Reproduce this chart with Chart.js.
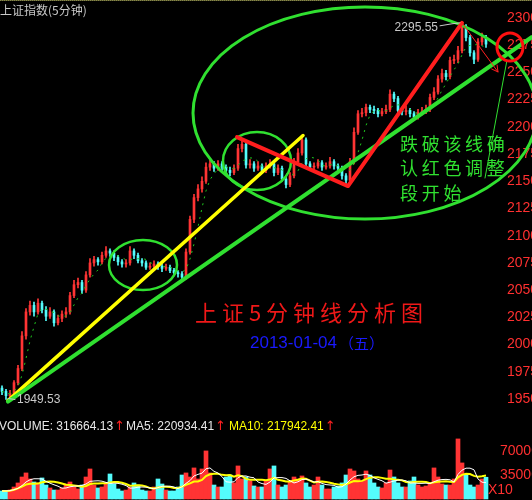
<!DOCTYPE html>
<html>
<head>
<meta charset="utf-8">
<script src="https://cdn.jsdelivr.net/npm/chart.js@4.4.0/dist/chart.umd.min.js"></script>
<style>
  html, body { margin: 0; padding: 0; background: #000; }
  #wrap { position: relative; width: 532px; height: 500px; overflow: hidden; background: #000; }
  #price { position: absolute; left: 0; top: 0; }
  #vol { position: absolute; left: 0; top: 410px; }
</style>
</head>
<body>
<div id="wrap">
  <canvas id="price" width="532" height="410"></canvas>
  <canvas id="vol" width="532" height="90"></canvas>
</div>
<script>
// 5-minute bars, index = bar number (125 slots, last few empty)
const slots = Array.from({length: 125}, (_, i) => i)

const opens = [1960,1957,1953,1955,1965,1978,2008,2030,2036,2030,
  2038,2032,2026,2030,2020,2024,2028,2030,2045,2055,
  2057,2050,2064,2075,2078,2076,2082,2086,2084,2080,
  2076,2074,2075,2086,2082,2077,2075,2071,2072,2074,
  2072,2070,2071,2068,2066,2065,2062,2085,2115,2135,
  2143,2150,2163,2166,2162,2166,2163,2160,2158,2162,
  2180,2184,2165,2166,2162,2164,2160,2164,2166,2158,
  2162,2152,2147,2155,2168,2176,2188,2166,2163,2164,
  2167,2163,2164,2168,2164,2162,2155,2151,2168,2195,
  2212,2213,2218,2216,2215,2212,2214,2216,2230,2226,
  2215,2214,2215,2212,2209,2213,2214,2216,2227,2232,
  2244,2249,2246,2261,2262,2270,2292,2282,2268,2262,
  2278,2282]
const closes = [1957,1953,1955,1965,1978,2008,2030,2036,2030,2038,
  2032,2026,2030,2020,2024,2028,2030,2045,2055,2057,
  2050,2064,2075,2078,2076,2082,2086,2084,2080,2076,
  2074,2075,2086,2082,2077,2075,2071,2072,2074,2072,
  2070,2071,2068,2066,2065,2062,2085,2115,2135,2143,
  2150,2163,2166,2162,2166,2163,2160,2158,2162,2180,
  2184,2165,2166,2162,2164,2160,2164,2166,2158,2162,
  2152,2147,2155,2168,2176,2188,2166,2163,2164,2167,
  2163,2164,2168,2164,2162,2155,2151,2168,2195,2212,
  2213,2218,2216,2215,2212,2214,2216,2230,2226,2215,
  2214,2215,2212,2209,2213,2214,2216,2227,2232,2244,
  2249,2246,2261,2262,2270,2292,2282,2268,2262,2278,
  2282,2276]
const highs = [1962,1959,1958,1967,1981,2012,2033,2040,2039,2042,
  2040,2035,2034,2032,2027,2031,2034,2048,2059,2061,
  2059,2067,2079,2081,2080,2085,2090,2088,2086,2082,
  2078,2078,2090,2088,2084,2079,2077,2075,2077,2076,
  2074,2074,2073,2070,2068,2067,2088,2118,2138,2147,
  2154,2167,2170,2168,2169,2168,2165,2163,2165,2184,
  2188,2186,2170,2168,2168,2166,2167,2170,2168,2165,
  2164,2154,2158,2171,2180,2192,2190,2168,2167,2170,
  2169,2167,2172,2170,2166,2164,2157,2171,2199,2215,
  2217,2221,2220,2219,2217,2217,2220,2234,2232,2228,
  2218,2219,2217,2214,2216,2218,2220,2230,2236,2247,
  2253,2252,2264,2266,2274,2295.55,2294,2284,2270,2281,
  2286,2284]
const lows = [1954,1949.53,1951,1953,1963,1976,2005,2027,2026,2028,
  2029,2022,2024,2017,2018,2021,2025,2028,2043,2052,
  2047,2048,2062,2072,2073,2074,2080,2081,2077,2073,
  2071,2071,2073,2079,2075,2072,2069,2069,2070,2069,
  2067,2068,2066,2063,2062,2060,2060,2083,2112,2132,
  2140,2148,2160,2159,2160,2160,2157,2155,2156,2160,
  2177,2162,2162,2159,2160,2157,2158,2162,2155,2156,
  2150,2144,2145,2153,2166,2174,2163,2160,2160,2162,
  2160,2161,2162,2161,2159,2152,2148,2149,2166,2193,
  2209,2210,2213,2212,2209,2210,2212,2214,2223,2212,
  2211,2211,2209,2206,2207,2211,2212,2214,2225,2230,
  2241,2243,2244,2258,2259,2268,2279,2265,2258,2260,
  2275,2273]
// volume in units of x10
const volumes = [11700,11700,13100,17500,23400,32100,38000,29200,24800,23400,
  30700,20400,16100,13100,13100,16100,21900,24800,17500,14600,
  20400,32100,43800,20400,16100,17500,23400,36500,21900,14600,
  11700,13100,17500,23400,20400,13100,11700,11700,17500,29200,
  21900,13100,11700,11700,17500,35000,38000,32100,45300,29200,
  43800,70100,38000,20400,17500,17500,32100,35000,23400,48200,
  29200,32100,26300,19000,17500,17500,26300,43800,48200,20400,
  17500,20400,26300,32100,29200,33600,23400,17500,20400,32100,
  20400,14600,14600,17500,19000,23400,35000,43800,40900,29200,
  26300,40900,35000,23400,17500,16100,23400,42300,32100,23400,
  17500,17500,26300,32100,20400,17500,19000,23400,45300,32100,
  21900,20400,20400,29200,87600,52600,35000,20400,17500,20400,
  29200,31666]

const priceTicks = {min: 1939.9, max: 2316.5, step: 25}
const volRange = {min: 0, max: 88958}
const volTickValues = [35000, 70000]

// hand drawn marks, in [bar index, price]
const yellowLine = [[1.5, 1948.5], [75.25, 2192]]
const greenLine = [[1.5, 1947.5], [132.5, 2282.5]]
const redPath = [[58.75, 2190.6], [86.5, 2145.6], [115, 2295.55]]
const redArrow = [[115.3, 2294], [124, 2250.4]]
const greenPointer = [[120.75, 2153], [126.25, 2261.4]]
// [center index, center price, radius in bars, radius in price]
const greenEllipses = [[90.75, 2212.7, 43, 97.4], [35.25, 2073.1, 8.5, 23], [63.75, 2168.6, 8.5, 26.6]]
const redCircle = [127, 2273.3, 3, 12.9]

const volumeLabels = ['VOLUME: 316664.13', 'MA5: 220934.41', 'MA10: 217942.41']

const UP = '#ff3434'
const DOWN = '#54fcfc'
const GREEN = '#30e030'

const candleColors = closes.map((c, i) => c >= opens[i] ? UP : DOWN)

function movingAvg(arr, n) {
    return arr.map((_, i) => {
        const from = Math.max(0, i - n + 1)
        let s = 0
        for (let k = from; k <= i; k++) s += arr[k]
        return s / (i - from + 1)
    })
}

Chart.defaults.font.family = 'Liberation Sans'
Chart.defaults.animation = false

function fixAxis(width) {
    return (scale) => {
        scale.width = width
        scale.paddingTop = 0
        scale.paddingBottom = 0
    }
}

function line(ctx, pts, color, width) {
    ctx.strokeStyle = color
    ctx.lineWidth = width
    ctx.beginPath()
    pts.forEach((p, i) => i ? ctx.lineTo(p[0], p[1]) : ctx.moveTo(p[0], p[1]))
    ctx.stroke()
}

const priceOverlay = {
    id: 'priceOverlay',
    afterDraw(chart) {
        const {ctx, scales: {x, y}} = chart
        const P = (p) => [x.getPixelForValue(p[0]), y.getPixelForValue(p[1])]
        const bw = x.getPixelForValue(1) - x.getPixelForValue(0)
        const ph = Math.abs(y.getPixelForValue(0) - y.getPixelForValue(1))
        ctx.save()
        ctx.lineCap = 'round'
        ctx.lineJoin = 'round'

        // dotted top border
        ctx.setLineDash([1, 1])
        line(ctx, [[0, 0.5], [532, 0.5]], '#8a8a4a', 1)
        ctx.setLineDash([])

        // ellipses
        greenEllipses.forEach((e, i) => {
            const c = P([e[0], e[1]])
            ctx.strokeStyle = GREEN
            ctx.lineWidth = i === 0 ? 3 : 2.5
            ctx.beginPath()
            ctx.ellipse(c[0], c[1], e[2] * bw, e[3] * ph, 0, 0, Math.PI * 2)
            ctx.stroke()
        })

        line(ctx, yellowLine.map(P), '#ffff00', 3.5)
        line(ctx, greenLine.map(P), GREEN, 4)
        line(ctx, redPath.map(P), '#ff1e1e', 4)

        // thin arrow from the top
        const a = redArrow.map(P)
        line(ctx, a, '#ff2020', 1)
        const ang = Math.atan2(a[1][1] - a[0][1], a[1][0] - a[0][0])
        line(ctx, [[a[1][0] - 7 * Math.cos(ang - 0.5), a[1][1] - 7 * Math.sin(ang - 0.5)], a[1],
            [a[1][0] - 7 * Math.cos(ang + 0.5), a[1][1] - 7 * Math.sin(ang + 0.5)]], '#ff2020', 1)

        line(ctx, greenPointer.map(P), GREEN, 1)

        const rc = P([redCircle[0], redCircle[1]])
        ctx.strokeStyle = '#ff1010'
        ctx.lineWidth = 3
        ctx.beginPath()
        ctx.ellipse(rc[0], rc[1], redCircle[2] * bw + 1, redCircle[3] * ph, 0, 0, Math.PI * 2)
        ctx.stroke()

        // texts
        ctx.textBaseline = 'middle'
        ctx.fillStyle = '#c8c8c8'
        ctx.font = '12px "Noto Sans CJK SC"'
        ctx.textAlign = 'left'
        ctx.fillText('上证指数(5分钟)', 0, 10)

        const hiIdx = highs.indexOf(Math.max(...highs))
        const hp = P([hiIdx, highs[hiIdx]])
        ctx.font = '12px "Liberation Sans"'
        ctx.textAlign = 'right'
        ctx.fillText(highs[hiIdx].toFixed(2), hp[0] - 24, hp[1] + 5)
        line(ctx, [[hp[0] - 22, hp[1] + 3], [hp[0] - 10, hp[1] + 1], [hp[0] - 2, hp[1]]], '#c8c8c8', 1)

        const loIdx = lows.indexOf(Math.min(...lows))
        const lp = P([loIdx, lows[loIdx]])
        ctx.textAlign = 'left'
        ctx.fillText(lows[loIdx].toFixed(2), lp[0] + 11, lp[1])
        line(ctx, [[lp[0] + 2, lp[1] - 1], [lp[0] + 9, lp[1]]], '#c8c8c8', 1)

        // title
        ctx.fillStyle = '#f01818'
        ctx.font = '22px "Noto Sans CJK SC"'
        ctx.textAlign = 'left'
        let tx = 195
        for (const ch of '上证5分钟线分析图') {
            ctx.fillText(ch, tx, 313)
            tx += /[0-9]/.test(ch) ? 17 : 27
        }
        ctx.fillStyle = '#1a1aff'
        ctx.font = '17px "Liberation Sans"'
        ctx.fillText('2013-01-04', 250, 343)
        ctx.font = '15px "Noto Sans CJK SC"'
        ctx.fillText('（五）', 339, 343)

        // green comment
        ctx.fillStyle = GREEN
        ctx.font = '18px "Noto Sans CJK SC"'
        ctx.textAlign = 'center'
        const note = ['跌破该线确', '认红色调整', '段开始']
        const rows = [144, 168, 193]
        note.forEach((s, r) => {
            Array.from(s).forEach((ch, k) => ctx.fillText(ch, 409 + k * 21.7, rows[r]))
        })
        ctx.restore()
    }
}

new Chart(document.getElementById('price'), {
    type: 'bar',
    data: {
        labels: slots,
        datasets: [
            {
                type: 'line',
                data: movingAvg(closes, 5),
                borderColor: '#1ec81e',
                borderWidth: 1,
                borderDash: [2, 5],
                pointRadius: 0,
                order: 0
            },
            {
                data: opens.map((o, i) => [o, closes[i]]),
                backgroundColor: candleColors,
                barThickness: 2,
                grouped: false,
                order: 1
            },
            {
                data: highs.map((h, i) => [lows[i], h]),
                backgroundColor: candleColors,
                barThickness: 1,
                grouped: false,
                order: 2
            }
        ]
    },
    options: {
        responsive: false,
        layout: {padding: 0},
        plugins: {legend: {display: false}, tooltip: {enabled: false}},
        scales: {
            x: {display: false, offset: true},
            y: {
                position: 'right',
                min: priceTicks.min,
                max: priceTicks.max,
                grid: {display: false, drawTicks: false},
                border: {display: false},
                ticks: {
                    stepSize: priceTicks.step,
                    includeBounds: false,
                    color: '#ff3030',
                    font: {size: 14},
                    padding: 7,
                    callback: (v) => String(v)
                },
                afterFit: fixAxis(32)
            }
        }
    },
    plugins: [priceOverlay]
})

const volOverlay = {
    id: 'volOverlay',
    afterDraw(chart) {
        const {ctx} = chart
        ctx.save()
        ctx.textBaseline = 'middle'
        ctx.textAlign = 'left'
        const starts = [-1, 126, 229]
        const colors = ['#e8e8e8', '#e8e8e8', '#ffff00']
        volumeLabels.forEach((s, i) => {
            ctx.font = '12px "Liberation Sans"'
            ctx.fillStyle = colors[i]
            ctx.fillText(s, starts[i], 17)
            const w = ctx.measureText(s).width
            ctx.fillStyle = '#ff2020'
            ctx.font = '13px "DejaVu Sans"'
            ctx.fillText('↑', starts[i] + w + 1, 17)
        })
        ctx.fillStyle = '#ff3030'
        ctx.font = '14px "Liberation Sans"'
        ctx.fillText('X10', 488, 80)
        ctx.restore()
    }
}

new Chart(document.getElementById('vol'), {
    type: 'bar',
    data: {
        labels: slots,
        datasets: [
            {
                type: 'line',
                data: movingAvg(volumes, 5),
                borderColor: '#ffffff',
                borderWidth: 1,
                pointRadius: 0,
                order: 0
            },
            {
                type: 'line',
                data: movingAvg(volumes, 10),
                borderColor: '#ffff00',
                borderWidth: 2,
                pointRadius: 0,
                order: 1
            },
            {
                data: volumes,
                backgroundColor: candleColors,
                barThickness: 4,
                grouped: false,
                clip: false,
                order: 2
            }
        ]
    },
    options: {
        responsive: false,
        layout: {padding: {top: 28, bottom: 1}},
        plugins: {legend: {display: false}, tooltip: {enabled: false}},
        scales: {
            x: {display: false, offset: true},
            y: {
                position: 'right',
                min: volRange.min,
                max: volRange.max,
                grid: {display: false, drawTicks: false},
                border: {display: false},
                afterBuildTicks: (scale) => {
                    scale.ticks = volTickValues.map((v) => ({value: v}))
                },
                ticks: {
                    color: '#ff3030',
                    font: {size: 14},
                    padding: 0,
                    callback: (v) => String(v)
                },
                afterFit: fixAxis(32)
            }
        }
    },
    plugins: [volOverlay]
})
</script>
</body>
</html>
